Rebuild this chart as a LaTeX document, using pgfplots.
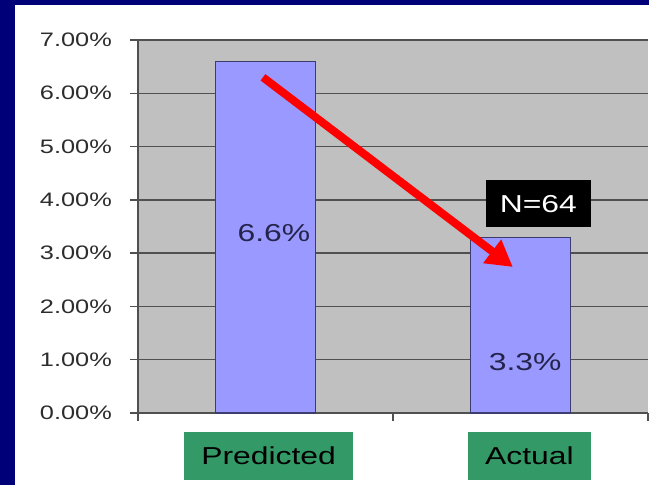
\documentclass[border=0pt]{standalone}
\usepackage{pgfplots}
\pgfplotsset{compat=1.18}
\usepackage{fontspec}
\setmainfont{Liberation Sans}
\usepackage{graphicx}
\usetikzlibrary{arrows.meta}
\definecolor{navy}{RGB}{0,0,120}
\definecolor{plotgray}{RGB}{192,192,192}
\definecolor{gridgray}{RGB}{80,80,80}
\definecolor{axisgray}{RGB}{80,80,80}
\definecolor{barblue}{RGB}{153,153,255}
\definecolor{baredge}{RGB}{60,60,110}
\definecolor{catgreen}{RGB}{51,153,102}
\definecolor{labeltext}{RGB}{35,35,75}
\definecolor{ticktext}{RGB}{45,45,45}
\newcommand{\sx}[1]{\scalebox{1.3}[1]{#1}}
\begin{document}
\begin{tikzpicture}[x=1pt,y=1pt]
\useasboundingbox (0,0) rectangle (649,485);
\fill[navy] (0,0) rectangle (649,485);
\fill[white] (15,0) rectangle (649,480);
\begin{axis}[
  at={(138pt,72pt)}, anchor=south west,
  scale only axis, width=510pt, height=373pt,
  xmin=-0.5, xmax=1.5, ymin=0, ymax=7,
  axis background/.style={fill=plotgray},
  axis x line*=bottom, axis y line*=left,
  axis line style={draw=axisgray, line width=1.3pt},
  ymajorgrids, major grid style={draw=gridgray, line width=1.4pt},
  tick align=outside, major tick length=8pt,
  ytick={0,1,2,3,4,5,6,7},
  yticklabels={{\sx{0.00\%}},{\sx{1.00\%}},{\sx{2.00\%}},{\sx{3.00\%}},{\sx{4.00\%}},{\sx{5.00\%}},{\sx{6.00\%}},{\sx{7.00\%}}},
  yticklabel style={font=\fontsize{19.5}{20}\selectfont, text=ticktext, inner sep=0pt, anchor=east, xshift=-18pt},
  ytick style={draw=axisgray, line width=1.3pt},
  xtick={0.012,1.035},
  xticklabels={{\sx{Predicted}},{\sx{Actual}}},
  xtick style={draw=none},
  xticklabel style={font=\fontsize{24.5}{25}\selectfont, text=black, fill=catgreen, inner xsep=17pt, inner ysep=0pt, minimum height=48pt, anchor=north, yshift=-11pt},
  extra x ticks={-0.5,0.5,1.5},
  extra x tick labels={},
  extra x tick style={xtick style={draw=axisgray, line width=1.3pt}, grid=none, xticklabel style={fill=none, inner xsep=0pt, minimum height=0pt}},
  clip=false,
]
\addplot[ybar, bar width=100pt, fill=barblue, draw=baredge, line width=1.2pt] coordinates {(0,6.6) (1,3.3)};
\node[font=\fontsize{24.5}{25}\selectfont, text=labeltext] at (axis cs:0.033,3.38) {\sx{6.6\%}};
\node[font=\fontsize{24.5}{25}\selectfont, text=labeltext] at (axis cs:1.018,0.96) {\sx{3.3\%}};
\node[fill=black, text=white, font=\fontsize{24.5}{25}\selectfont, minimum width=105pt, minimum height=47pt, inner sep=0pt] at (axis cs:1.07,3.93) {\sx{N=64}};
\draw[red, line width=8pt, -{Triangle[length=26pt,width=28pt]}] (axis cs:-0.01,6.30) -- (axis cs:0.97,2.74);
\end{axis}
\end{tikzpicture}
\end{document}
